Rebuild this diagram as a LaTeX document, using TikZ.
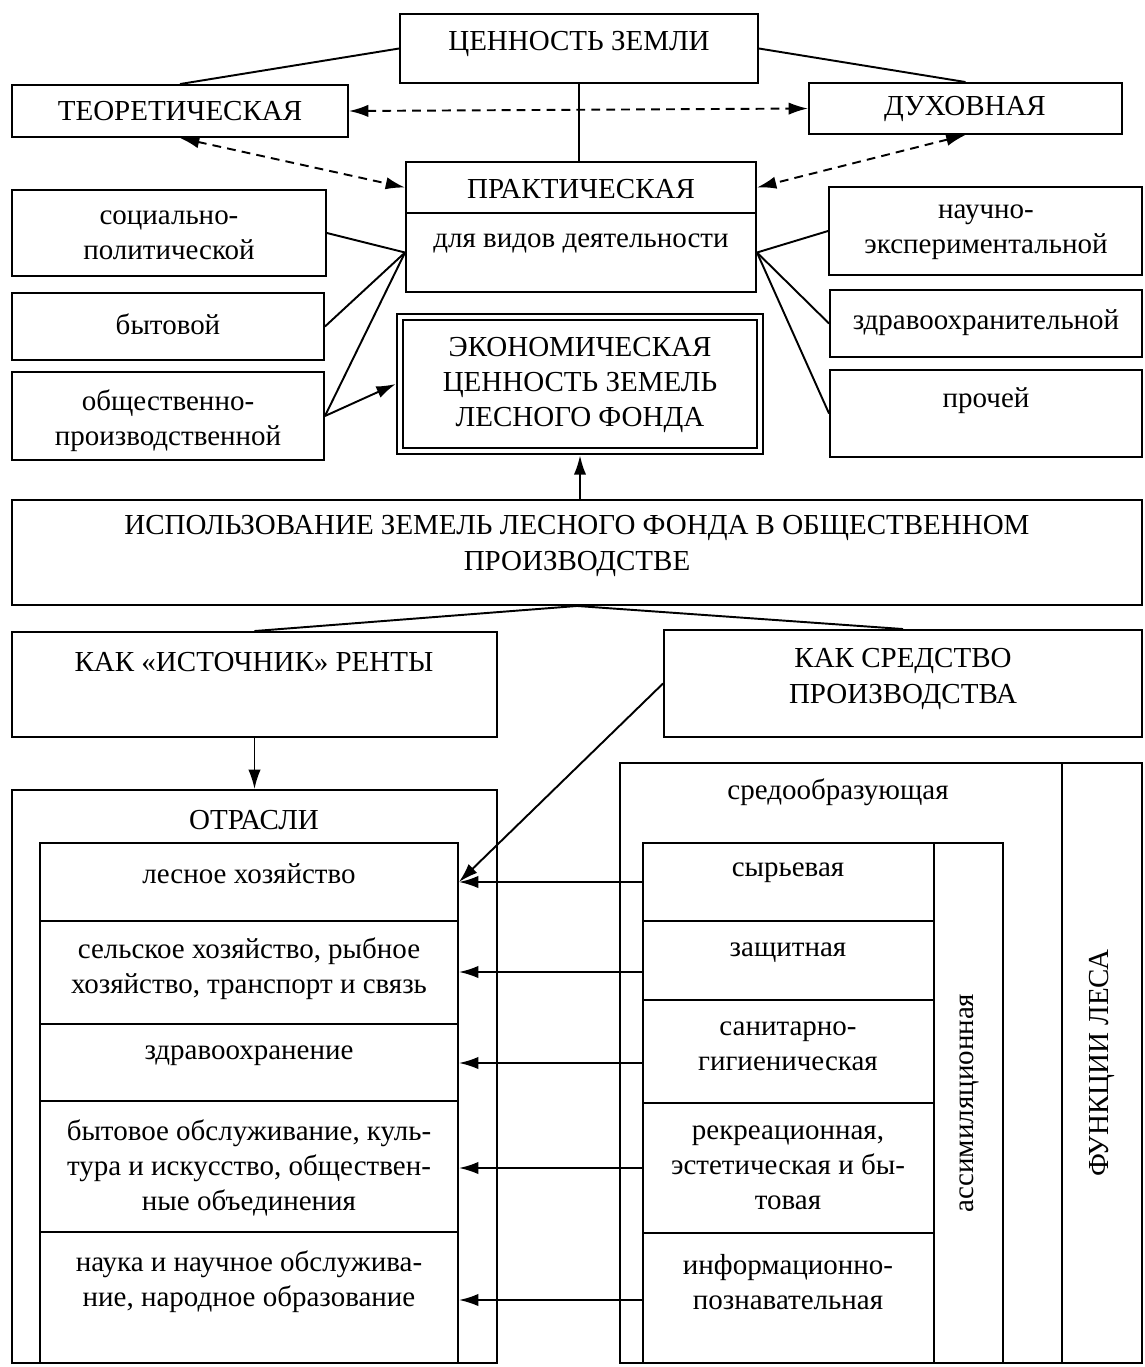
\documentclass[tikz,border=0pt]{standalone}
\usepackage{fontspec}
\setmainfont{Liberation Serif}
\usetikzlibrary{arrows.meta,fit,calc}
\begin{document}
\begin{tikzpicture}[x=0.02cm,y=-0.02cm,line width=1.1pt,
  every node/.style={font=\fontsize{16.5}{20}\selectfont, align=center},
  bx/.style={draw, inner sep=0pt, fit={#1}},
  tx/.style={inner sep=0pt},
  arr/.style={-{Latex[length=11pt,width=7pt]}},
  darr/.style={{Latex[length=11pt,width=7pt]}-{Latex[length=11pt,width=7pt]}, dash pattern=on 5pt off 3.5pt},
]
\useasboundingbox (0,0) rectangle (1144,1367);

% top part
\node[bx={(400,14)(758,83)}] (top) {};
\node[tx] (topt) at (579,44) {ЦЕННОСТЬ ЗЕМЛИ};
\node[bx={(12,85)(348,137)}] (theor) {};
\node[tx] (theort) at (180,111) {ТЕОРЕТИЧЕСКАЯ};
\node[bx={(809,83)(1122,134)}] (dukh) {};
\node[tx] (dukht) at (965,109) {ДУХОВНАЯ};
\node[bx={(406,162)(756,213)}] (prakth) {};
\node[tx] (prakt) at (581,189) {ПРАКТИЧЕСКАЯ};
\node[bx={(406,213)(756,292)}] (praktb) {};
\node[tx] (praktt) at (581,243) {для видов деятельности};

\node[bx={(12,190)(326,276)}] (soc) {};
\node[tx] (soct) at (169,235) {социально-\\политической};
\node[bx={(12,293)(324,360)}] (byt) {};
\node[tx] (bytt) at (168,324) {бытовой};
\node[bx={(12,372)(324,460)}] (obsh) {};
\node[tx] (obsht) at (168,421) {общественно-\\производственной};
\node[bx={(829,187)(1142,275)}] (nauch) {};
\node[tx] (naucht) at (986,232) {научно-\\экспериментальной};
\node[bx={(830,290)(1142,357)}] (zdrav) {};
\node[tx] (zdravt) at (986,323) {здравоохранительной};
\node[bx={(830,370)(1142,457)}] (proch) {};
\node[tx] (procht) at (986,401) {прочей};

\node[bx={(397,314)(763,454)}, line width=1.5pt] (econo) {};
\node[bx={(403,320)(757,448)}] (econ) {};
\node[tx] (econt) at (580,385) {ЭКОНОМИЧЕСКАЯ\\ЦЕННОСТЬ ЗЕМЕЛЬ\\ЛЕСНОГО ФОНДА};

\node[bx={(12,500)(1142,605)}] (isp) {};
\node[tx] (ispt) at (577,546) {ИСПОЛЬЗОВАНИЕ ЗЕМЕЛЬ ЛЕСНОГО ФОНДА В ОБЩЕСТВЕННОМ\\ПРОИЗВОДСТВЕ};

\node[bx={(12,632)(497,737)}] (ist) {};
\node[tx] (istt) at (254,662) {КАК «ИСТОЧНИК» РЕНТЫ};
\node[bx={(664,630)(1142,737)}] (sred) {};
\node[tx] (sredt) at (903,679) {КАК СРЕДСТВО\\ПРОИЗВОДСТВА};

% left block
\node[bx={(12,790)(497,1363)}] (otr) {};
\node[tx] (otrt) at (254,820) {ОТРАСЛИ};
\node[bx={(40,843)(458,921)}] (lc1) {};
\node[bx={(40,921)(458,1024)}] (lc2) {};
\node[bx={(40,1024)(458,1101)}] (lc3) {};
\node[bx={(40,1101)(458,1232)}] (lc4) {};
\node[bx={(40,1232)(458,1363)}] (lc5) {};
\node[tx] (lt1) at (249,874) {лесное хозяйство};
\node[tx] (lt2) at (249,969) {сельское хозяйство, рыбное\\хозяйство, транспорт и связь};
\node[tx] (lt3) at (249,1056) {здравоохранение};
\node[tx] (lt4) at (249,1168) {бытовое обслуживание, куль-\\тура и искусство, обществен-\\ные объединения};
\node[tx] (lt5) at (249,1282) {наука и научное обслужива-\\ние, народное образование};

% right block
\node[bx={(620,763)(1142,1363)}] (func) {};
\node[bx={(1062,763)(1142,1363)}] (fl) {};
\node[tx, rotate=90] (flt) at (1102,1063) {ФУНКЦИИ ЛЕСА};
\node[tx] (sot) at (838,792) {средообразующая};
\node[bx={(643,843)(1003,1363)}] (inner) {};
\node[bx={(934,843)(1003,1363)}] (asm) {};
\node[tx, rotate=90] (asmt) at (969,1103) {ассимиляционная};
\node[bx={(643,843)(934,921)}] (rc1) {};
\node[bx={(643,921)(934,1000)}] (rc2) {};
\node[bx={(643,1000)(934,1103)}] (rc3) {};
\node[bx={(643,1103)(934,1233)}] (rc4) {};
\node[bx={(643,1233)(934,1363)}] (rc5) {};
\node[tx] (rt1) at (788,873) {сырьевая};
\node[tx] (rt2) at (788,953) {защитная};
\node[tx] (rt3) at (788,1046) {санитарно-\\гигиеническая};
\node[tx] (rt4) at (788,1168) {рекреационная,\\эстетическая и бы-\\товая};
\node[tx] (rt5) at (788,1282) {информационно-\\познавательная};

% connectors top
\draw (top.west) -- (theor.north);
\draw (top.east) -- (dukh.north);
\draw (top.south) -- (top.south |- prakth.north);
\draw[darr] (theor.east) -- (dukh.west);
\draw[darr] (theor.south) -- (prakth.west);
\draw[darr] (dukh.south) -- (prakth.east);
\draw (praktb.west) -- (soc.east);
\draw (praktb.west) -- (byt.east);
\draw (praktb.west) -- (obsh.east);
\draw (praktb.east) -- (nauch.west);
\draw (praktb.east) -- (zdrav.west);
\draw (praktb.east) -- (proch.west);
\draw[arr] (obsh.east) -- (econo.west);
\draw[arr] (econo.south |- isp.north) -- (econo.south);
\draw (isp.south) -- (ist.north);
\draw (isp.south) -- (sred.north);
\draw[arr] (ist.south) -- (otr.north);
\draw[arr] (sred.west) -- (lc1.east);

% function arrows
\draw[arr] (rc1.west) -- (rc1.west -| lc1.east);
\draw[arr] ([yshift=-0.23cm]rc2.west) -- ([yshift=-0.23cm]rc2.west -| lc2.east);
\draw[arr] ([yshift=-0.23cm]rc3.west) -- ([yshift=-0.23cm]rc3.west -| lc3.east);
\draw[arr] (rc4.west) -- (rc4.west -| lc4.east);
\draw[arr] ([yshift=-0.04cm]rc5.west) -- ([yshift=-0.04cm]rc5.west -| lc5.east);
\end{tikzpicture}
\end{document}
